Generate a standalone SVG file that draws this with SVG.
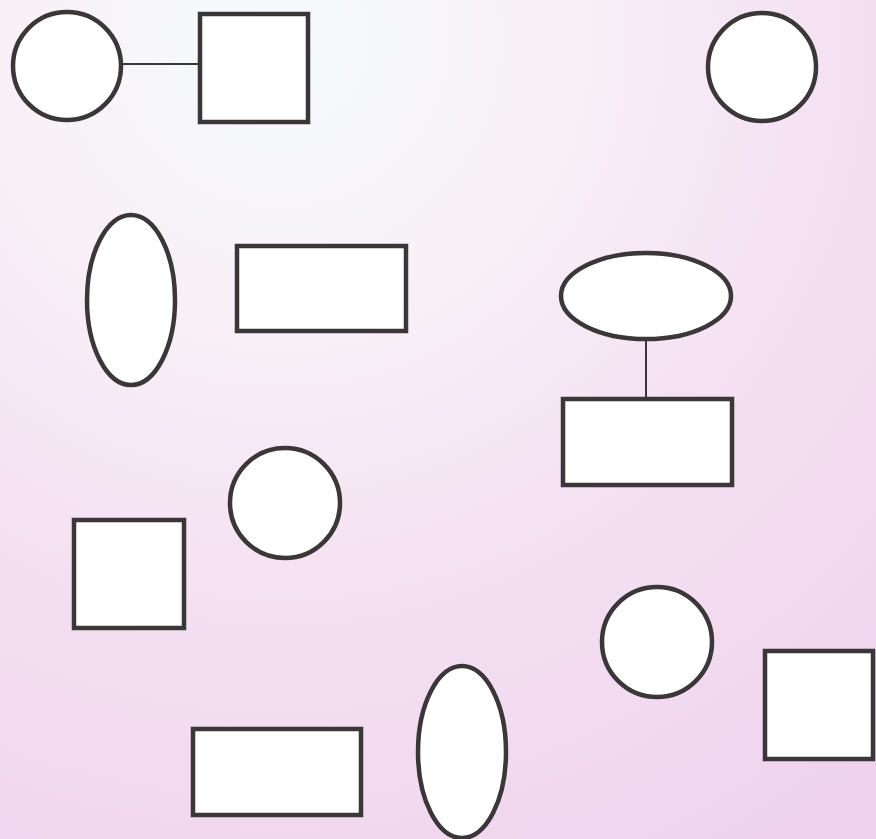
<svg xmlns="http://www.w3.org/2000/svg" width="876" height="839" viewBox="0 0 876 839">
<style>
.n{fill:#ffffff;stroke:#3b3637;stroke-width:4.5}
.c{stroke:#3b3637;stroke-width:2;fill:none}
</style>
<defs>
<radialGradient id="bg" gradientUnits="userSpaceOnUse" cx="280" cy="40" r="950">
<stop offset="0" stop-color="#f5fbfc"/>
<stop offset="0.3" stop-color="#f8f0f7"/>
<stop offset="0.6" stop-color="#f4e0f2"/>
<stop offset="1" stop-color="#efd3ed"/>
</radialGradient>
</defs>
<rect x="0" y="0" width="876" height="839" fill="url(#bg)"/>
<g id="connectors">
<line class="c" x1="122" y1="64" x2="200" y2="64"/>
<line class="c" x1="646" y1="339" x2="646" y2="399"/>
</g>
<g id="circle1"><circle class="n" cx="67" cy="66" r="54"/></g>
<g id="square1"><rect class="n" x="200" y="14" width="108" height="108"/></g>
<g id="circle2"><circle class="n" cx="762" cy="67" r="54"/></g>
<g id="ellipse1"><ellipse class="n" cx="131" cy="300" rx="44" ry="85"/></g>
<g id="rect1"><rect class="n" x="237" y="246" width="169" height="85"/></g>
<g id="ellipse2"><ellipse class="n" cx="646" cy="296" rx="85" ry="43"/></g>
<g id="rect2"><rect class="n" x="563" y="399" width="169" height="86"/></g>
<g id="circle3"><circle class="n" cx="285" cy="503" r="55"/></g>
<g id="square2"><rect class="n" x="74" y="520" width="110" height="108"/></g>
<g id="circle4"><circle class="n" cx="657" cy="642" r="55"/></g>
<g id="square3"><rect class="n" x="765" y="651" width="108" height="108"/></g>
<g id="rect3"><rect class="n" x="193" y="729" width="168" height="86"/></g>
<g id="ellipse3"><ellipse class="n" cx="462" cy="752" rx="44" ry="86"/></g>
</svg>
